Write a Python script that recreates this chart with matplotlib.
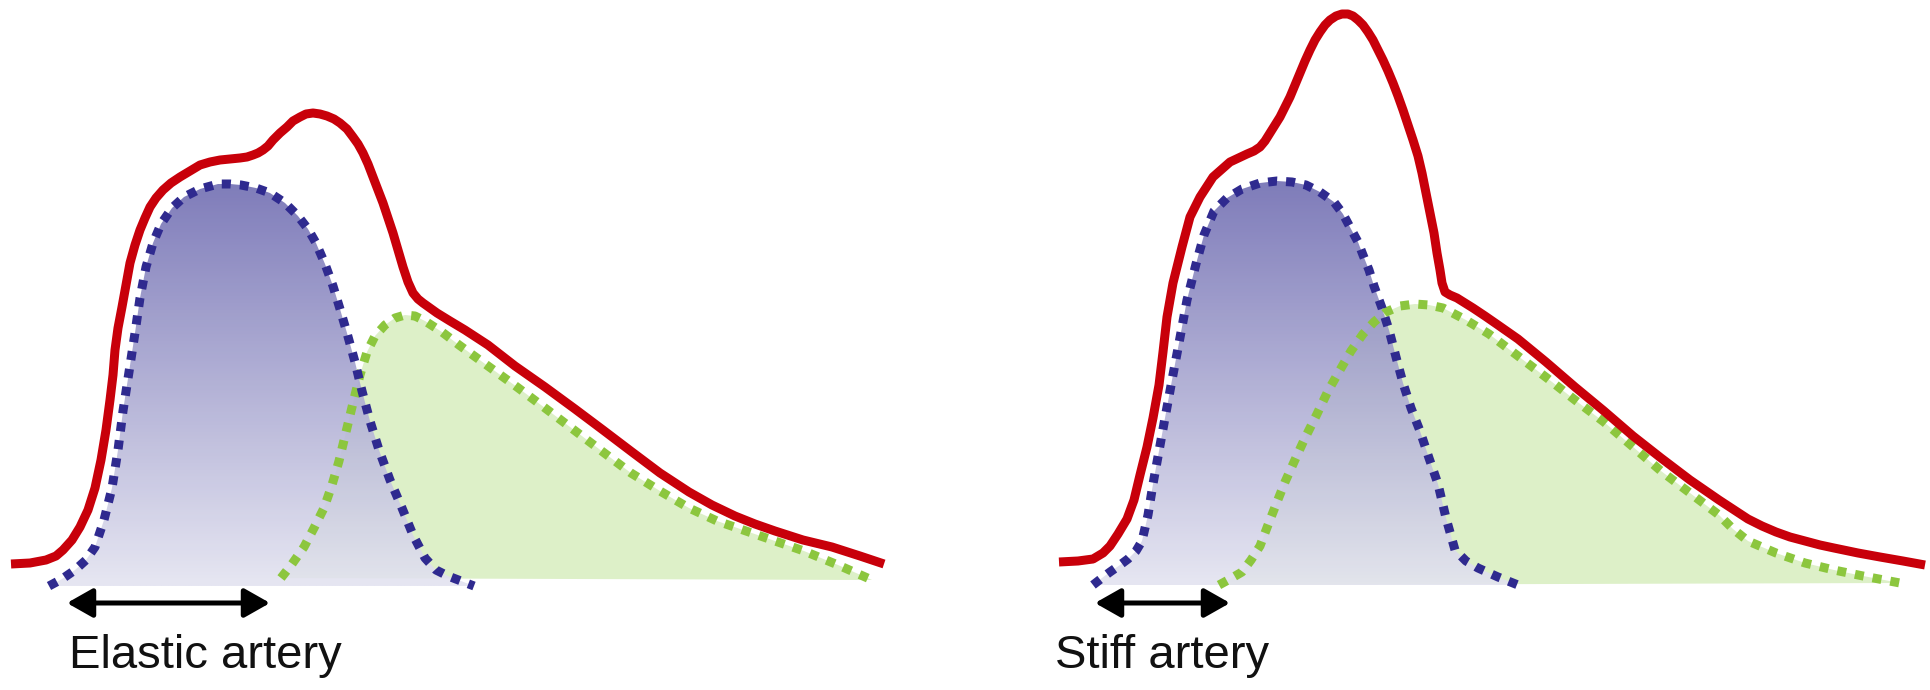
import numpy as np
import matplotlib
matplotlib.use("Agg")
import matplotlib.pyplot as plt
from matplotlib.patches import Polygon

# ---------------------------------------------------------------
# Pressure waveform sketches (canvas units: x right, y down)
# ---------------------------------------------------------------

# Elastic artery: total pressure wave (red)
elastic_total_x = [11, 30, 46, 56, 63, 72, 80, 88, 95, 101, 106, 110, 113, 115, 118, 122, 126, 130, 135, 140,
                   145, 150, 156, 163, 171, 180, 190, 200, 210, 220, 230, 240, 247, 253, 258, 263, 268, 273,
                   280, 287, 293, 300, 306, 313, 320, 327, 334, 340, 347, 353, 358, 363, 368, 373, 378, 383,
                   388, 393, 398, 403, 408, 413, 418, 423, 430, 437, 450, 465, 488, 515, 545, 575, 603, 632,
                   660, 689, 712, 735, 755, 775, 803, 832, 860, 884]
elastic_total_y = [564, 563, 560, 556, 550, 540, 527, 510, 488, 460, 430, 400, 375, 350, 328, 307, 285, 263, 245, 230,
                   218, 207, 198, 190, 183, 177, 171, 165, 162, 160, 159, 158, 157, 155, 153, 150, 146, 140,
                   133, 127, 121, 117, 114, 113, 114, 116, 119, 123, 129, 137, 144, 153, 164, 177, 190, 203,
                   218, 233, 250, 267, 282, 293, 299, 303, 308, 313, 321, 330, 345, 366, 387, 409, 430, 452,
                   473, 492, 505, 516, 524, 531, 540, 547, 556, 564]

# Elastic artery: forward wave (blue)
elastic_fwd_x = [49, 62, 75, 86, 95, 104, 112, 118, 123, 129, 135, 140, 146, 153, 161, 172, 184, 200, 218, 230,
                 241, 256, 270, 285, 298, 308, 316, 325, 333, 340, 347, 355, 362, 370, 379, 390, 402, 413,
                 425, 436, 448, 461, 474]
elastic_fwd_y = [586, 579, 570, 560, 547, 520, 488, 450, 411, 372, 333, 298, 267, 243, 224, 208, 197, 189, 184, 184,
                 185, 188, 193, 203, 216, 229, 243, 264, 286, 309, 333, 362, 391, 421, 450, 480, 508, 535,
                 558, 570, 576, 581, 586]

# Elastic artery: reflected wave (green)
elastic_refl_x = [281, 292, 304, 314, 324, 332, 339, 346, 353, 360, 367, 375, 385, 395, 405, 415, 425, 442, 459,
                  488, 517, 545, 574, 603, 631, 660, 689, 717, 746, 775, 804, 838, 872]
elastic_refl_y = [578, 564, 547, 528, 508, 485, 461, 432, 403, 375, 352, 336, 325, 318, 315, 316, 321, 332, 345,
                  366, 387, 408, 430, 452, 473, 491, 508, 521, 531, 541, 551, 565, 580]

# Stiff artery: total pressure wave (red)
stiff_total_x = [1059, 1078, 1093, 1103, 1110, 1118, 1127, 1134, 1140, 1147, 1153, 1159, 1163, 1167, 1173, 1182,
                 1190, 1200, 1213, 1230, 1247, 1254, 1260, 1265, 1270, 1275, 1280, 1285, 1290, 1295, 1300, 1305,
                 1310, 1315, 1320, 1325, 1330, 1336, 1342, 1348, 1353, 1358, 1363, 1368, 1373, 1378, 1383, 1388,
                 1393, 1398, 1403, 1408, 1413, 1418, 1422, 1426, 1430, 1434, 1437, 1440, 1442, 1445, 1450, 1457,
                 1465, 1473, 1485, 1498, 1518, 1546, 1575, 1604, 1633, 1661, 1690, 1719, 1748, 1762, 1776, 1790,
                 1805, 1820, 1834, 1858, 1880, 1903, 1925]
stiff_total_y = [562, 561, 559, 553, 546, 534, 519, 500, 475, 447, 418, 385, 352, 317, 283, 247,
                 217, 197, 177, 162, 154, 151, 147, 141, 133, 125, 117, 107, 97, 85, 73, 61,
                 50, 40, 32, 25, 20, 16, 14, 14, 16, 20, 25, 32, 40, 50, 60, 71,
                 83, 96, 110, 125, 140, 156, 173, 193, 213, 233, 253, 270, 283, 292, 295, 298,
                 303, 308, 316, 325, 339, 362, 387, 411, 436, 458, 480, 500, 519, 526, 532, 537,
                 541, 545, 548, 553, 557, 561, 565]

# Stiff artery: forward wave (blue)
stiff_fwd_x = [1093, 1102, 1110, 1120, 1128, 1136, 1142, 1148, 1153, 1159, 1165, 1172, 1179, 1187, 1196, 1204,
               1214, 1227, 1242, 1260, 1277, 1292, 1306, 1320, 1334, 1343, 1351, 1358, 1363, 1369, 1374, 1382,
               1389, 1396, 1403, 1411, 1420, 1429, 1438, 1446, 1455, 1466, 1478, 1498, 1518]
stiff_fwd_y = [585, 578, 572, 565, 559, 551, 541, 515, 484, 451, 418, 380, 343, 300, 264, 235,
               211, 198, 189, 183, 181, 182, 185, 192, 202, 214, 229, 242, 255, 270, 286, 308,
               330, 357, 383, 408, 431, 458, 484, 518, 550, 561, 568, 577, 585]

# Stiff artery: reflected wave (green)
stiff_refl_x = [1219, 1230, 1242, 1251, 1260, 1268, 1277, 1285, 1294, 1305, 1317, 1328, 1340, 1351, 1363, 1374,
                1386, 1400, 1415, 1429, 1443, 1466, 1489, 1518, 1547, 1575, 1604, 1632, 1661, 1690, 1719, 1733,
                1748, 1776, 1805, 1834, 1863, 1900]
stiff_refl_y = [585, 579, 572, 560, 546, 525, 502, 482, 462, 438, 414, 391, 370, 351, 334, 322,
                312, 306, 304, 305, 308, 320, 334, 356, 378, 400, 422, 446, 471, 493, 515, 529,
                541, 553, 563, 570, 576, 583]

panel_labels = ["Elastic artery", "Stiff artery"]
label_x = [69, 1055]
# travel-time arrows: (start x, end x)
arrow_spans = [(67, 270), (1095, 1230)]

# ---------------------------------------------------------------
W, H = 1931, 690
fig = plt.figure(figsize=(W / 100, H / 100), dpi=100)
ax = fig.add_axes([0, 0, 1, 1])
ax.set_axis_off()

RED = "#c8000a"
BLUE = "#2f2a8f"
GREEN = "#8cc63e"
px = 0.72  # points per pixel at 100 dpi

# vertical lavender gradient for the forward-wave area
grad_top, grad_bot = 180, 586
n = 256
t = np.linspace(0, 1, n)[:, None]
c_top = np.array([112, 109, 178]) / 255
c_bot = np.array([228, 228, 241]) / 255
lav = (c_top * (1 - t) + c_bot * t)[:, None, :]
lav = np.repeat(lav, 2, axis=1)

panels = [
    (elastic_total_x, elastic_total_y, elastic_fwd_x, elastic_fwd_y, elastic_refl_x, elastic_refl_y),
    (stiff_total_x, stiff_total_y, stiff_fwd_x, stiff_fwd_y, stiff_refl_x, stiff_refl_y),
]

for (tx, ty, fx, fy, rx, ry), label, lx, (a0, a1) in zip(panels, panel_labels, label_x, arrow_spans):
    # reflected-wave area
    gpoly = Polygon(np.column_stack([rx, ry]), closed=True, facecolor="#ddf0c8",
                    edgecolor="none", zorder=1)
    ax.add_patch(gpoly)

    # forward-wave area with gradient
    fpoly = Polygon(np.column_stack([fx, fy]), closed=True, facecolor="none", edgecolor="none")
    ax.add_patch(fpoly)
    im = ax.imshow(lav, extent=(min(fx), max(fx), grad_bot, grad_top), origin="upper",
                   aspect="auto", interpolation="bilinear", alpha=0.9, zorder=2)
    im.set_clip_path(fpoly)

    # curves
    ax.plot(rx, ry, color=GREEN, lw=9 * px, linestyle=(0, (1, 1.0)),
            dash_capstyle="butt", zorder=3)
    ax.plot(fx, fy, color=BLUE, lw=9 * px, linestyle=(0, (1, 1.0)),
            dash_capstyle="butt", zorder=3.5)
    ax.plot(tx, ty, color=RED, lw=9 * px, solid_capstyle="butt",
            solid_joinstyle="round", zorder=4)

    # travel-time arrow
    ax.annotate("", xy=(a1, 603), xytext=(a0, 603),
                arrowprops=dict(arrowstyle="<|-|>,head_length=0.6,head_width=0.34",
                                lw=5 * px, color="black", mutation_scale=26,
                                shrinkA=0, shrinkB=0), zorder=5)

    ax.text(lx, 668, label, fontsize=34, family=["Liberation Sans", "DejaVu Sans"],
            color="#111111", ha="left", va="baseline", zorder=5)

ax.set_xlim(0, W)
ax.set_ylim(H, 0)

fig.savefig("out.png", dpi=100, facecolor="white")
